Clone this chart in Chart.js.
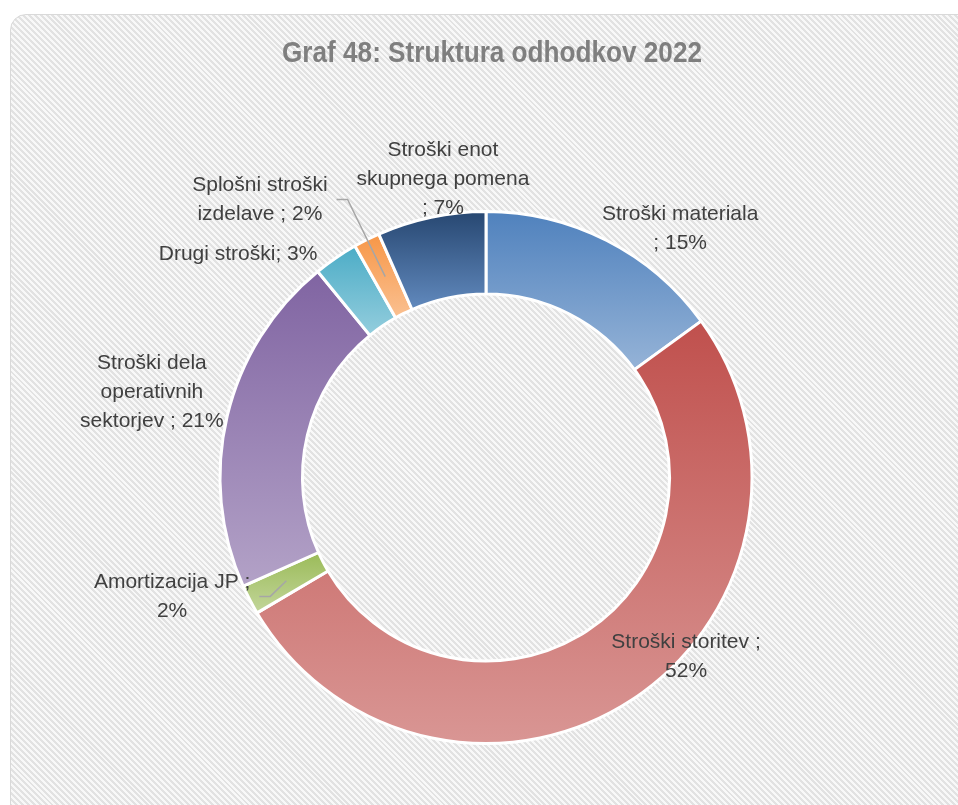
<!DOCTYPE html>
<html>
<head>
<meta charset="utf-8">
<script src="https://cdn.jsdelivr.net/npm/chart.js@4.4.1/dist/chart.umd.min.js"></script>
<style>
html, body { margin: 0; padding: 0; width: 958px; height: 805px; overflow: hidden; background: #fff; }
#card {
    position: absolute; left: 10px; top: 14px; width: 1000px; height: 850px;
    border: 1.5px solid #d9d9d9; border-radius: 16px; box-sizing: border-box;
    background: repeating-linear-gradient(45deg, #f8f8f8 0, #f8f8f8 2.1px, #e2e2e2 2.1px, #e2e2e2 4.2px);
}
#wrap { position: absolute; left: 0; top: 0; width: 958px; height: 805px; }
</style>
</head>
<body>
<div id="card"></div>
<div id="wrap"><canvas id="odhodki"></canvas></div>
<script>
const titleText = 'Graf 48: Struktura odhodkov 2022';

const categories = [
    'Stroški materiala',
    'Stroški storitev',
    'Amortizacija JP',
    'Stroški dela operativnih sektorjev',
    'Drugi stroški',
    'Splošni stroški izdelave',
    'Stroški enot skupnega pomena'
];
const shares = [15.0, 51.5, 1.8, 20.8, 2.7, 1.6, 6.6];

// how each label is broken into lines, {p} = percentage
const labelLines = [
    ['Stroški materiala', '; {p}'],
    ['Stroški storitev ;', '{p}'],
    ['Amortizacija JP ;', '{p}'],
    ['Stroški dela', 'operativnih', 'sektorjev ; {p}'],
    ['Drugi stroški; {p}'],
    ['Splošni stroški', 'izdelave ; {p}'],
    ['Stroški enot', 'skupnega pomena', '; {p}']
];
// label block centre, in units of the outer radius from the centre
const labelPos = [[0.73, -0.936], [0.752, 0.673], [-1.18, 0.447], [-1.256, -0.32], [-0.932, -0.838], [-0.85, -1.045], [-0.162, -1.12]];
const hasLeader = [false, false, true, false, false, true, false];

const colorsTop = ['#4f81bd', '#c0504d', '#9bbb59', '#8064a2', '#4bacc6', '#f79646', '#264670'];
const colorsBottom = ['#95b3d7', '#d99694', '#c3d69b', '#b3a2c7', '#93cddd', '#fac090', '#6189bd'];

const CUT = 0.69;

function segGradient(ctx) {
    const chart = ctx.chart, area = chart.chartArea, i = ctx.dataIndex;
    if (!area) return colorsTop[i];
    const total = shares.reduce((a, b) => a + b, 0);
    let start = -Math.PI / 2;
    for (let k = 0; k < i; k++) start += shares[k] / total * 2 * Math.PI;
    const end = start + shares[i] / total * 2 * Math.PI;
    const cy = (area.top + area.bottom) / 2;
    const R = Math.min(area.width, area.height) / 2, r = R * CUT;
    const ys = [];
    for (let t = 0; t <= 60; t++) {
        const a = start + (end - start) * t / 60;
        ys.push(cy + R * Math.sin(a), cy + r * Math.sin(a));
    }
    const g = chart.ctx.createLinearGradient(0, Math.min(...ys), 0, Math.max(...ys));
    g.addColorStop(0, colorsTop[i]);
    g.addColorStop(1, colorsBottom[i]);
    return g;
}

const textPlugin = {
    id: 'textPlugin',
    afterDraw(chart) {
        const c = chart.ctx;
        const meta = chart.getDatasetMeta(0);
        const total = shares.reduce((a, b) => a + b, 0);
        c.save();
        // title, squeezed to look like a condensed face
        c.fillStyle = '#7f7f7f';
        c.font = 'bold 30px "Liberation Sans", Arial, sans-serif';
        c.textAlign = 'center';
        c.textBaseline = 'middle';
        const tw = c.measureText(titleText).width;
        c.save();
        c.translate(492, 54);
        c.scale(420 / tw, 1);
        c.fillText(titleText, 0, 0);
        c.restore();

        c.font = '21px "Liberation Sans", Arial, sans-serif';
        c.fillStyle = '#404040';
        const lh = 29;
        meta.data.forEach((arc, i) => {
            const cx = arc.x, cy = arc.y, R = arc.outerRadius;
            const pct = Math.round(shares[i] / total * 100) + '%';
            const lines = labelLines[i].map(s => s.replace('{p}', pct));
            const bx = cx + labelPos[i][0] * R, by = cy + labelPos[i][1] * R;
            const y0 = by - (lines.length - 1) * lh / 2;
            let maxW = 0;
            lines.forEach((s, j) => {
                c.fillText(s, bx, y0 + j * lh);
                maxW = Math.max(maxW, c.measureText(s).width);
            });
            if (hasLeader[i]) {
                const mid = (arc.startAngle + arc.endAngle) / 2;
                const rm = (arc.outerRadius + arc.innerRadius) / 2;
                const sx = bx + maxW / 2 + 9;
                c.strokeStyle = '#a6a6a6';
                c.lineWidth = 1.5;
                c.beginPath();
                c.moveTo(sx, by);
                c.lineTo(sx + 11, by);
                c.lineTo(cx + rm * Math.cos(mid), cy + rm * Math.sin(mid));
                c.stroke();
            }
        });
        c.restore();
    }
};

new Chart(document.getElementById('odhodki'), {
    type: 'doughnut',
    data: {
        labels: categories,
        datasets: [{
            data: shares,
            backgroundColor: segGradient,
            borderColor: '#ffffff',
            borderWidth: 3
        }]
    },
    options: {
        responsive: true,
        maintainAspectRatio: false,
        animation: false,
        cutout: (CUT * 100) + '%',
        layout: { padding: { left: 218, right: 204, top: 210, bottom: 60 } },
        plugins: { legend: { display: false }, tooltip: { enabled: false } }
    },
    plugins: [textPlugin]
});
</script>
</body>
</html>
